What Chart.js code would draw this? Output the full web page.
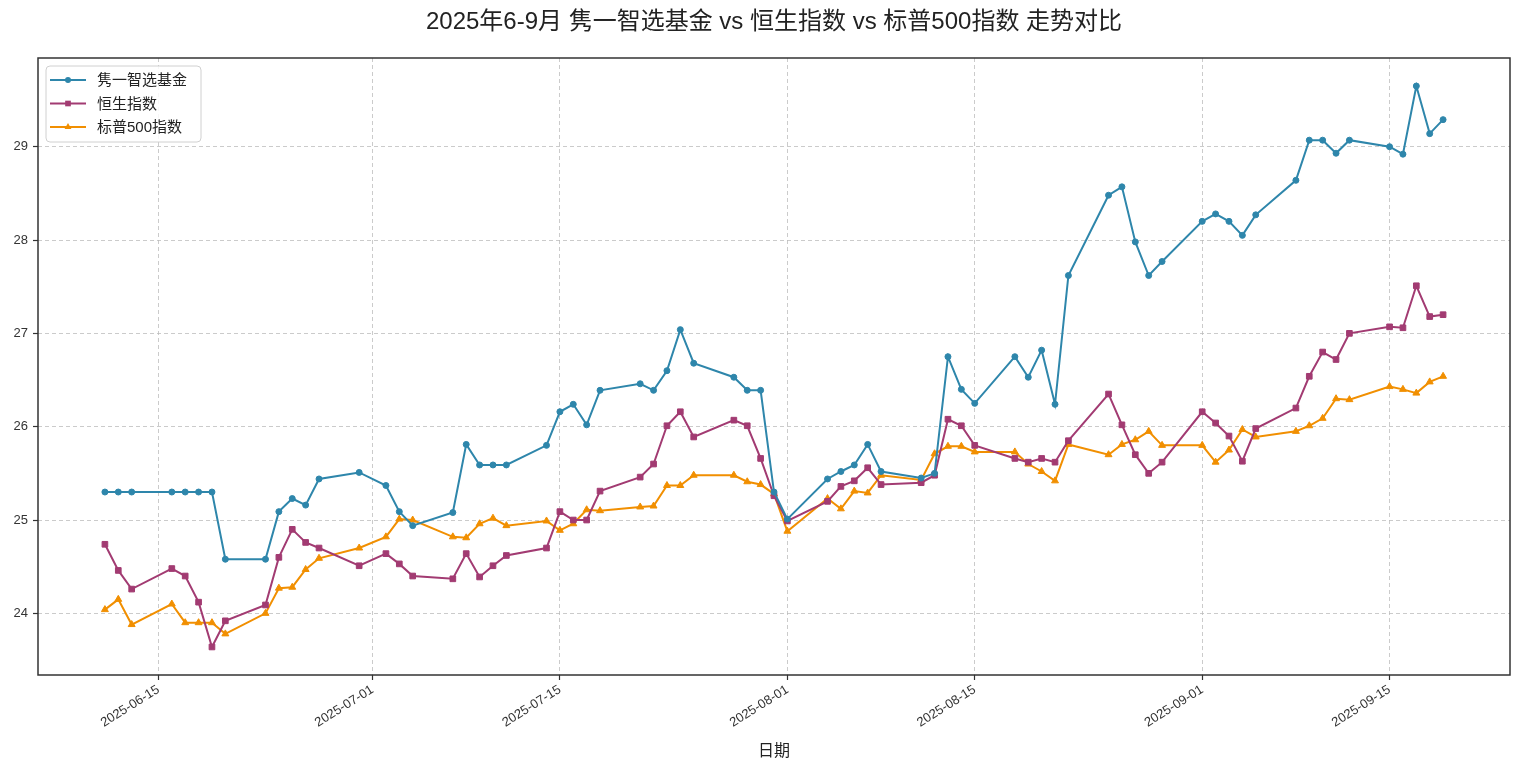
<!DOCTYPE html>
<html>
<head>
<meta charset="utf-8">
<script src="https://cdn.jsdelivr.net/npm/chart.js@4.4.1/dist/chart.umd.min.js"></script>
<style>
  html, body { margin: 0; padding: 0; background: #fff; }
  #wrap { width: 1522px; height: 773px; position: relative; }
</style>
</head>
<body>
<div id="wrap"><canvas id="chart_trend"></canvas></div>
<script>
var dates = [
  '2025-06-11','2025-06-12','2025-06-13','2025-06-16','2025-06-17','2025-06-18','2025-06-19','2025-06-20','2025-06-23','2025-06-24','2025-06-25','2025-06-26','2025-06-27','2025-06-30',
  '2025-07-02','2025-07-03','2025-07-04','2025-07-07','2025-07-08','2025-07-09','2025-07-10','2025-07-11','2025-07-14','2025-07-15','2025-07-16','2025-07-17','2025-07-18','2025-07-21','2025-07-22','2025-07-23','2025-07-24','2025-07-25','2025-07-28','2025-07-29','2025-07-30','2025-07-31',
  '2025-08-01','2025-08-04','2025-08-05','2025-08-06','2025-08-07','2025-08-08','2025-08-11','2025-08-12','2025-08-13','2025-08-14','2025-08-15','2025-08-18','2025-08-19','2025-08-20','2025-08-21','2025-08-22','2025-08-25','2025-08-26','2025-08-27','2025-08-28','2025-08-29',
  '2025-09-01','2025-09-02','2025-09-03','2025-09-04','2025-09-05','2025-09-08','2025-09-09','2025-09-10','2025-09-11','2025-09-12','2025-09-15','2025-09-16','2025-09-17','2025-09-18','2025-09-19'
];

var fund = [
  25.30, 25.30, 25.30, 25.30, 25.30, 25.30, 25.30, 24.58, 24.58, 25.09, 25.23, 25.16, 25.44, 25.51,
  25.37, 25.09, 24.94, 25.08, 25.81, 25.59, 25.59, 25.59, 25.80, 26.16, 26.24, 26.02, 26.39, 26.46, 26.39, 26.60, 27.04, 26.68, 26.53, 26.39, 26.39, 25.30,
  25.01, 25.44, 25.52, 25.59, 25.81, 25.52, 25.45, 25.50, 26.75, 26.40, 26.25, 26.75, 26.53, 26.82, 26.24, 27.62, 28.48, 28.57, 27.98, 27.62, 27.77,
  28.20, 28.28, 28.20, 28.05, 28.27, 28.64, 29.07, 29.07, 28.93, 29.07, 29.00, 28.92, 29.65, 29.14, 29.29
];

var hsi = [
  24.74, 24.46, 24.26, 24.48, 24.40, 24.12, 23.64, 23.92, 24.09, 24.60, 24.90, 24.76, 24.70, 24.51,
  24.64, 24.53, 24.40, 24.37, 24.64, 24.39, 24.51, 24.62, 24.70, 25.09, 25.00, 25.00, 25.31, 25.46, 25.60, 26.01, 26.16, 25.89, 26.07, 26.01, 25.66, 25.26,
  24.99, 25.20, 25.36, 25.42, 25.56, 25.38, 25.40, 25.48, 26.08, 26.01, 25.80, 25.66, 25.62, 25.66, 25.62, 25.85, 26.35, 26.02, 25.70, 25.50, 25.62,
  26.16, 26.04, 25.90, 25.63, 25.98, 26.20, 26.54, 26.80, 26.72, 27.00, 27.07, 27.06, 27.51, 27.18, 27.20
];

var spx = [
  24.04, 24.15, 23.88, 24.10, 23.90, 23.90, 23.90, 23.78, 24.00, 24.27, 24.28, 24.47, 24.59, 24.70,
  24.82, 25.01, 25.00, 24.82, 24.81, 24.96, 25.02, 24.94, 24.99, 24.89, 24.96, 25.11, 25.10, 25.14, 25.15, 25.37, 25.37, 25.48, 25.48, 25.41, 25.38, 25.28,
  24.88, 25.23, 25.12, 25.31, 25.29, 25.48, 25.43, 25.71, 25.79, 25.79, 25.73, 25.73, 25.60, 25.52, 25.42, 25.81, 25.70, 25.81, 25.86, 25.95, 25.80,
  25.80, 25.62, 25.75, 25.97, 25.89, 25.95, 26.01, 26.09, 26.30, 26.29, 26.43, 26.40, 26.36, 26.48, 26.54
];

var series_names = ['隽一智选基金', '恒生指数', '标普500指数'];
var x_ticks = ['2025-06-15', '2025-07-01', '2025-07-15', '2025-08-01', '2025-08-15', '2025-09-01', '2025-09-15'];
var y_ticks = [24, 25, 26, 27, 28, 29];

var title_text = '2025年6-9月 隽一智选基金 vs 恒生指数 vs 标普500指数 走势对比';
var x_title = '日期';

var colors = ['#2E86AB', '#A23B72', '#F18F01'];
var styles = ['circle', 'rect', 'triangle'];
var radii = [3, 4, 4];
var font_stack = '"Liberation Sans", "Noto Sans CJK SC", sans-serif';
var grid_color = 'rgba(185,185,185,0.75)';

function to_day(s) {
  var p = s.split('-');
  return Date.UTC(+p[0], +p[1] - 1, +p[2]) / 864e5;
}

function day_label(d) {
  return new Date(Math.round(d) * 864e5).toISOString().slice(0, 10);
}

function make_points(values) {
  var pts = [];
  for (var i = 0; i < dates.length; i++) {
    pts.push({x: to_day(dates[i]), y: values[i]});
  }
  return pts;
}

// matplotlib-like 5% margins
var d0 = to_day(dates[0]);
var d1 = to_day(dates[dates.length - 1]);
var all_vals = fund.concat(hsi, spx);
var v0 = Math.min.apply(null, all_vals);
var v1 = Math.max.apply(null, all_vals);
var x_pad = (d1 - d0) * 0.05;
var y_pad = (v1 - v0) * 0.05;

var frame_plugin = {
  id: 'frame',
  beforeDatasetsDraw: function (chart) {
    var a = chart.chartArea, ctx = chart.ctx;
    ctx.save();
    ctx.strokeStyle = '#333';
    ctx.lineWidth = 1.5;
    ctx.strokeRect(a.left, a.top, a.right - a.left, a.bottom - a.top);
    ctx.restore();
  }
};

function draw_marker(ctx, style, x, y, r) {
  ctx.beginPath();
  if (style === 'circle') {
    ctx.arc(x, y, r, 0, Math.PI * 2);
  } else if (style === 'rect') {
    var s = r * Math.SQRT1_2;
    ctx.rect(x - s, y - s, 2 * s, 2 * s);
  } else {
    ctx.moveTo(x, y - r);
    ctx.lineTo(x + r * Math.sin(Math.PI * 2 / 3), y - r * Math.cos(Math.PI * 2 / 3));
    ctx.lineTo(x + r * Math.sin(Math.PI * 4 / 3), y - r * Math.cos(Math.PI * 4 / 3));
    ctx.closePath();
  }
  ctx.fill();
}

var legend_plugin = {
  id: 'boxLegend',
  afterDatasetsDraw: function (chart) {
    var a = chart.chartArea, ctx = chart.ctx;
    var sets = chart.data.datasets;
    var left = a.left + 8, top = a.top + 8, w = 155, h = 76, row = 23.5;
    ctx.save();
    ctx.fillStyle = 'rgba(255,255,255,0.85)';
    ctx.strokeStyle = '#d0d0d0';
    ctx.lineWidth = 1;
    ctx.beginPath();
    ctx.roundRect(left, top, w, h, 4);
    ctx.fill();
    ctx.stroke();
    ctx.font = '15px ' + font_stack;
    ctx.textBaseline = 'middle';
    for (var i = 0; i < sets.length; i++) {
      var y = top + 14 + i * row;
      ctx.strokeStyle = sets[i].borderColor;
      ctx.fillStyle = sets[i].borderColor;
      ctx.lineWidth = 2;
      ctx.beginPath();
      ctx.moveTo(left + 4, y);
      ctx.lineTo(left + 40, y);
      ctx.stroke();
      draw_marker(ctx, sets[i].pointStyle, left + 22, y, sets[i].pointRadius);
      ctx.fillStyle = '#222';
      ctx.fillText(sets[i].label, left + 51, y + 1);
    }
    ctx.restore();
  }
};

function make_chart() {
  var ctx = document.getElementById('chart_trend').getContext('2d');
  var series = [fund, hsi, spx];
  var datasets = [];
  for (var i = 0; i < series.length; i++) {
    datasets.push({
      label: series_names[i],
      data: make_points(series[i]),
      borderColor: colors[i],
      backgroundColor: colors[i],
      borderWidth: 2,
      pointStyle: styles[i],
      pointRadius: radii[i],
      pointBorderWidth: 1,
      pointBackgroundColor: colors[i],
      pointBorderColor: colors[i],
      tension: 0,
      fill: false
    });
  }

  new Chart(ctx, {
    type: 'line',
    data: { datasets: datasets },
    plugins: [frame_plugin, legend_plugin],
    options: {
      responsive: true,
      maintainAspectRatio: false,
      animation: false,
      events: [],
      layout: { padding: { left: 0, right: 12, top: 0, bottom: 0 } },
      plugins: {
        legend: { display: false },
        tooltip: { enabled: false },
        title: {
          display: true,
          text: title_text,
          fullSize: false,
          color: '#222',
          font: { family: font_stack, size: 24, weight: 'normal', lineHeight: 1.2 },
          padding: { top: 8, bottom: 21.2 }
        }
      },
      scales: {
        x: {
          type: 'linear',
          min: d0 - x_pad,
          max: d1 + x_pad,
          afterFit: function (s) { s.height = 98; },
          afterBuildTicks: function (s) {
            s.ticks = x_ticks.map(function (t) { return {value: to_day(t)}; });
          },
          ticks: {
            callback: function (v) { return day_label(v); },
            autoSkip: false,
            minRotation: 32,
            maxRotation: 32,
            padding: 2,
            color: '#333',
            font: { family: font_stack, size: 13 }
          },
          grid: {
            color: grid_color,
            lineWidth: 1,
            drawTicks: true,
            tickLength: 5,
            tickColor: '#333',
            tickBorderDash: [],
            tickWidth: 1.2
          },
          border: { display: false, dash: [4, 3] },
          title: {
            display: true,
            text: x_title,
            color: '#222',
            font: { family: font_stack, size: 16, lineHeight: 1.2 },
            padding: { top: 0, bottom: 11.4 }
          }
        },
        y: {
          type: 'linear',
          min: v0 - y_pad,
          max: v1 + y_pad,
          afterFit: function (s) { s.width = 38; },
          afterBuildTicks: function (s) {
            s.ticks = y_ticks.map(function (v) { return {value: v}; });
          },
          ticks: {
            callback: function (v) { return String(v); },
            padding: 5,
            color: '#333',
            font: { family: font_stack, size: 13 }
          },
          grid: {
            color: grid_color,
            lineWidth: 1,
            drawTicks: true,
            tickLength: 5,
            tickColor: '#333',
            tickBorderDash: [],
            tickWidth: 1.2
          },
          border: { display: false, dash: [4, 3] }
        }
      }
    }
  });
}

make_chart();
</script>
</body>
</html>
